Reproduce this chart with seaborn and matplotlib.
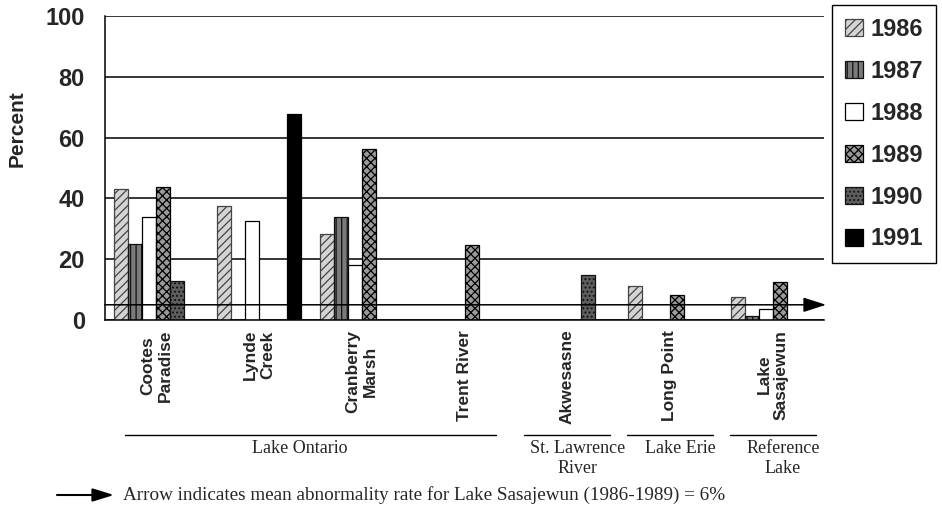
import numpy as np
import pandas as pd
import seaborn as sns
import matplotlib.pyplot as plt
import matplotlib.transforms as mtransforms
from matplotlib.lines import Line2D

# sites (x categories) and years (hue)
sites = ["Cootes\nParadise", "Lynde\nCreek", "Cranberry\nMarsh", "Trent River",
         "Akwesasne", "Long Point", "Lake\nSasajewun"]
years = ["1986", "1987", "1988", "1989", "1990", "1991"]

nan = np.nan
v1986 = [43.0, 37.5, 28.3, nan, nan, 11.2, 7.7]
v1987 = [25.0, nan, 33.8, nan, nan, nan, 1.3]
v1988 = [34.0, 32.7, 18.0, nan, nan, nan, 3.6]
v1989 = [43.7, nan, 56.2, 24.7, nan, 8.2, 12.6]
v1990 = [12.8, nan, nan, nan, 14.8, nan, nan]
v1991 = [nan, 67.8, nan, nan, nan, nan, nan]

# site groups: (label, first site index, last site index)
groups = [("Lake Ontario", 0, 3), ("St. Lawrence\nRiver", 4, 4),
          ("Lake Erie", 5, 5), ("Reference\nLake", 6, 6)]

arrow_level = 5
note = "Arrow indicates mean abnormality rate for Lake Sasajewun (1986-1989) = 6%"

df = pd.DataFrame({"site": sites * 6,
                   "year": np.repeat(years, len(sites)),
                   "pct": v1986 + v1987 + v1988 + v1989 + v1990 + v1991}).dropna()

sns.set_style("white")
plt.rcParams["font.family"] = ["Liberation Sans", "DejaVu Sans"]
plt.rcParams["hatch.linewidth"] = 0.9

fig = plt.figure(figsize=(9.42, 5.13), dpi=100)
ax = fig.add_axes([105 / 942, 1 - 320 / 513, 719 / 942, 304 / 513])

sns.barplot(data=df, x="site", y="pct", hue="year", order=sites, hue_order=years,
            width=0.82, gap=0, errorbar=None, ax=ax, legend=False)

# fill styles per year, imitating the old grey-scale hatches
styles = {
    "1986": dict(fc="#d4d4d4", ec="#444444", hatch="////"),
    "1987": dict(fc="#7a7a7a", ec="#111111", hatch="|||"),
    "1988": dict(fc="white", ec="black", hatch=None),
    "1989": dict(fc="#9a9a9a", ec="black", hatch="xxxx"),
    "1990": dict(fc="#5e5e5e", ec="#111111", hatch="...."),
    "1991": dict(fc="black", ec="black", hatch=None),
}
for yr, cont in zip(years, ax.containers):
    st = styles[yr]
    for p in cont:
        p.set_facecolor(st["fc"])
        p.set_edgecolor(st["ec"])
        p.set_hatch(st["hatch"])
        p.set_linewidth(0.9)

ax.set_ylim(0, 100)
ax.set_xlim(-0.5, len(sites) - 0.5)
ax.set_yticks(range(0, 101, 20))
ax.yaxis.grid(True, color="black", lw=1.1)
ax.set_axisbelow(True)
for s in ["top", "right"]:
    ax.spines[s].set_visible(False)
for s in ["left", "bottom"]:
    ax.spines[s].set_color("black")
    ax.spines[s].set_linewidth(1.1)

ax.tick_params(axis="y", direction="inout", length=11, width=1, color="black",
               labelsize=17, pad=9)
for t in ax.get_yticklabels():
    t.set_fontweight("bold")

# tick marks between sites, labels at the centres
ax.set_xticks(np.arange(-0.5, len(sites), 1.0))
ax.set_xticklabels([])
ax.tick_params(axis="x", which="major", direction="out", length=5, width=1, color="black")
ax.set_xticks(range(len(sites)), minor=True)
ax.set_xticklabels(sites, minor=True, rotation=90, fontsize=12.5, fontweight="bold",
                   multialignment="center")
ax.tick_params(axis="x", which="minor", length=0, pad=7)
ax.set_xlabel("")
ax.set_ylabel("Percent", fontsize=15, fontweight="bold")
ax.yaxis.set_label_coords(-0.109, 0.63)

# reference arrow across the plot
ax.annotate("", xy=(len(sites) - 0.48, arrow_level), xytext=(-0.5, arrow_level),
            arrowprops=dict(arrowstyle="-|>,head_length=1.4,head_width=0.45",
                            color="black", lw=1.1, mutation_scale=10, shrinkA=0, shrinkB=0),
            annotation_clip=False)

# group brackets under the site labels
trans = mtransforms.blended_transform_factory(ax.transData, fig.transFigure)
for name, a, b in groups:
    pad = 0.42 if a == b else 0.31
    x0, x1 = a - pad, b + pad
    fig.add_artist(Line2D([x0, x1], [1 - 435 / 513] * 2, color="black", lw=1,
                          transform=trans))
    xc = (x0 + x1) / 2 + (0.1 if a == b else -0.1)
    ax.text(xc, 1 - 440 / 513, name, transform=trans, ha="center",
            va="top", fontsize=13, family="Liberation Serif", linespacing=1.2)

fig.legend(handles=ax.containers, labels=years, loc="upper left",
           bbox_to_anchor=(832 / 942, 1 - 5 / 513), prop=dict(size=17, weight="bold"),
           frameon=True, fancybox=False, edgecolor="black", framealpha=1,
           handlelength=0.75, handleheight=0.75, handletextpad=0.35,
           labelspacing=0.8, borderpad=0.55, borderaxespad=0)

# footnote with a small arrow
fig.add_artist(plt.Annotation("", xy=(114 / 942, 1 - 495 / 513), xytext=(57 / 942, 1 - 495 / 513),
                              xycoords="figure fraction", textcoords="figure fraction",
                              arrowprops=dict(arrowstyle="-|>,head_length=1.3,head_width=0.4",
                                              color="black", lw=1.5, mutation_scale=10,
                                              shrinkA=0, shrinkB=0)))
fig.text(123 / 942, 1 - 495 / 513, note, ha="left", va="center", fontsize=13.8,
         family="Liberation Serif")

fig.savefig("out.png", dpi=100)
